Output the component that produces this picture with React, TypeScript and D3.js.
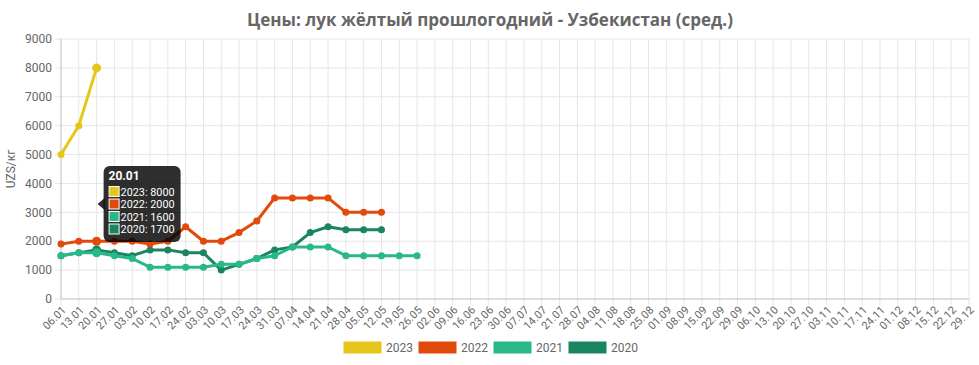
import React from 'react'
import * as d3 from 'd3'

const weeks = ['06.01', '13.01', '20.01', '27.01', '03.02', '10.02', '17.02', '24.02', '03.03', '10.03', '17.03', '24.03', '31.03', '07.04', '14.04', '21.04', '28.04', '05.05', '12.05', '19.05', '26.05', '02.06', '09.06', '16.06', '23.06', '30.06', '07.07', '14.07', '21.07', '28.07', '04.08', '11.08', '18.08', '25.08', '01.09', '08.09', '15.09', '22.09', '29.09', '06.10', '13.10', '20.10', '27.10', '03.11', '10.11', '17.11', '24.11', '01.12', '08.12', '15.12', '22.12', '29.12']

const years = ['2023', '2022', '2021', '2020']
const colors = ['#e6c619', '#e24a0c', '#29b988', '#1b8460']

const prices2023 = [5000, 6000, 8000]
const prices2022 = [1900, 2000, 2000, 2000, 2000, 1900, 2000, 2500, 2000, 2000, 2300, 2700, 3500, 3500, 3500, 3500, 3000, 3000, 3000]
const prices2021 = [1500, 1600, 1600, 1500, 1400, 1100, 1100, 1100, 1100, 1200, 1200, 1400, 1500, 1800, 1800, 1800, 1500, 1500, 1500, 1500, 1500]
const prices2020 = [1500, 1600, 1700, 1600, 1500, 1700, 1700, 1600, 1600, 1000, 1200, 1400, 1700, 1800, 2300, 2500, 2400, 2400, 2400]

const yTicks = [0, 1000, 2000, 3000, 4000, 5000, 6000, 7000, 8000, 9000]

const title = 'Цены: лук жёлтый прошлогодний - Узбекистан (сред.)'
const hoverIndex = 2

export default function App() {
  const width = 979
  const height = 365
  const margin = { top: 39, right: 10, bottom: 66, left: 61 }
  const series = [prices2023, prices2022, prices2021, prices2020]

  const x = d3.scalePoint<string>()
    .domain(weeks)
    .range([margin.left, width - margin.right])
  const y = d3.scaleLinear()
    .domain([0, 9000])
    .range([height - margin.bottom, margin.top])

  const line = d3.line<number>()
    .x((d, i) => x(weeks[i]) as number)
    .y(d => y(d))

  const font = 'Roboto, sans-serif'
  const hx = x(weeks[hoverIndex]) as number

  return (
    <svg width={width} height={height} style={{ position: 'absolute', left: 0, top: 0 }}>
      <rect width={width} height={height} fill="#fff" />
      <text x={490} y={26} textAnchor="middle" fontFamily="'Open Sans', sans-serif" fontWeight="bold" fontSize={17} fill="#666">{title}</text>

      {/* grid */}
      {yTicks.map(t => (
        <line key={'gy' + t} x1={margin.left - 6} x2={width - margin.right} y1={y(t)} y2={y(t)} stroke="#e6e6e6" />
      ))}
      {weeks.map(w => (
        <line key={'gx' + w} x1={x(w)} x2={x(w)} y1={margin.top} y2={y(0) + 6} stroke="#e6e6e6" />
      ))}
      <line x1={margin.left} x2={margin.left} y1={margin.top} y2={y(0)} stroke="#c8c8c8" />
      <line x1={margin.left} x2={width - margin.right} y1={y(0)} y2={y(0)} stroke="#c8c8c8" />

      {yTicks.map(t => (
        <text key={'ty' + t} x={margin.left - 9} y={y(t)} dy="0.35em" textAnchor="end" fontFamily={font} fontSize={12} fill="#666">{t}</text>
      ))}
      {weeks.map(w => (
        <text key={'tx' + w} transform={`translate(${(x(w) as number) + 3},${y(0) + 9}) rotate(-45)`} textAnchor="end" dy="0.35em" fontFamily={font} fontSize={11} fill="#666">{w}</text>
      ))}
      <text transform={`translate(15,${(y(0) + y(9000)) / 2}) rotate(-90)`} textAnchor="middle" fontFamily={font} fontSize={12} fill="#666">UZS/кг</text>

      {/* series, first year on top */}
      {series.map((s, k) => ({ s, k })).reverse().map(({ s, k }) => (
        <g key={years[k]}>
          <path d={line(s) || ''} fill="none" stroke={colors[k]} strokeWidth={3} strokeLinejoin="round" />
          {s.map((v, i) => (
            <circle key={i} cx={x(weeks[i])} cy={y(v)} r={i === hoverIndex ? 4.5 : 3.5} fill={colors[k]} />
          ))}
        </g>
      ))}

      {/* tooltip */}
      <g>
        <path d={`M${hx + 1},${204} l7,-6 v12 z`} fill="rgba(0,0,0,0.82)" />
        <rect x={hx + 7} y={166} width={77} height={76} rx={6} fill="rgba(0,0,0,0.82)" />
        <text x={hx + 12} y={180} fontFamily={font} fontWeight="bold" fontSize={12} fill="#fff">{weeks[hoverIndex]}</text>
        {years.map((yr, k) => (
          <g key={'tt' + yr}>
            <rect x={hx + 12.5} y={186.5 + k * 12.5} width={10} height={10} fill={colors[k]} stroke="#fff" strokeWidth={1} />
            <text x={hx + 24} y={195.5 + k * 12.5} fontFamily={font} fontSize={11.5} textLength={54} lengthAdjust="spacingAndGlyphs" fill="#fff">{`${yr}: ${series[k][hoverIndex]}`}</text>
          </g>
        ))}
      </g>

      {/* legend */}
      {years.map((yr, k) => (
        <g key={'lg' + yr} transform={`translate(${343 + k * 75},341)`}>
          <rect width={39} height={13} fill={colors[k]} stroke="#fff" />
          <text x={43} y={7} dy="0.35em" fontFamily={font} fontSize={12} fill="#666">{yr}</text>
        </g>
      ))}
    </svg>
  )
}
